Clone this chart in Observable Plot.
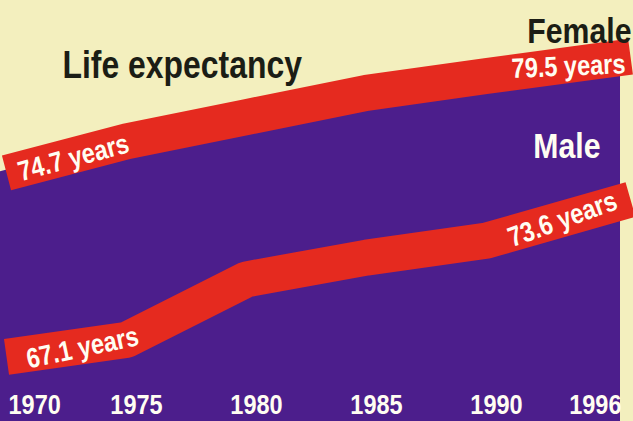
<!DOCTYPE html>
<html><head><meta charset="utf-8">
<script src="https://cdn.jsdelivr.net/npm/d3@7"></script>
<script src="https://cdn.jsdelivr.net/npm/@observablehq/plot@0.6"></script>
<style>
html,body{margin:0;padding:0;background:#f3efbe;overflow:hidden;}
#chart svg{display:block;overflow:hidden !important;}
</style></head><body><div id="chart"></div>
<script>
const years = [1970, 1975, 1980, 1985, 1990, 1996];
const female = [74.7, 76.0, 77.0, 78.0, 78.7, 79.5];
const male = [67.1, 67.8, 70.3, 71.2, 71.9, 73.6];
const yearLabels = ["1970", "1975", "1980", "1985", "1990", "1996"];
const title = "Life expectancy";
const seriesNames = ["Female", "Male"];

const rows = years.map((year, i) => ({year, female: female[i], male: male[i], label: yearLabels[i]}));
const first = rows[0], last = rows[rows.length - 1];
const middle = rows.slice(1, -1);

const CREAM = "#f3efbe", PURPLE = "#4c1e8c", RED = "#e52a1f", INK = "#1b1d15", WHITE = "#fffdf2";
const FONT = `"Liberation Sans",Arial,sans-serif`;
const common = {fontFamily: FONT, fontWeight: "bold"};

const chart = Plot.plot({
  width: 633, height: 421,
  marginTop: 44, marginBottom: 38, marginLeft: 6, marginRight: 3,
  x: {domain: [1970, 1996], axis: null},
  y: {domain: [66, 80], axis: null},
  style: {background: CREAM, fontFamily: FONT, overflow: "hidden"},
  marks: [
    Plot.areaY(rows, {x: "year", y: "female", fill: PURPLE, dx: -10}),
    Plot.line(rows, {x: "year", y: "female", stroke: RED, strokeWidth: 36, strokeLinejoin: "round", strokeLinecap: "butt"}),
    Plot.line(rows, {x: "year", y: "male", stroke: RED, strokeWidth: 36, strokeLinejoin: "round", strokeLinecap: "butt"}),
    // value labels along the bands
    Plot.text([first], {x: "year", y: "female", text: d => `${d.female} years`, ...common, fill: WHITE, fontSize: 28, textAnchor: "middle", rotate: -15, dx: 67, dy: -15}),
    Plot.text([last], {x: "year", y: "female", text: d => `${d.female} years`, ...common, fill: WHITE, fontSize: 28, textAnchor: "middle", rotate: -2.5, dx: -62, dy: 10}),
    Plot.text([first], {x: "year", y: "male", text: d => `${d.male} years`, ...common, fill: WHITE, fontSize: 28, textAnchor: "middle", rotate: -12, dx: 76, dy: -9}),
    Plot.text([last], {x: "year", y: "male", text: d => `${d.male} years`, ...common, fill: WHITE, fontSize: 28, textAnchor: "middle", rotate: -20, dx: -68, dy: 20}),
    // series names
    Plot.text([last], {x: "year", y: "female", text: () => seriesNames[0], ...common, fill: INK, fontSize: 36, textAnchor: "end", dx: 1, dy: -25}),
    Plot.text([last], {x: "year", y: "male", text: () => seriesNames[1], ...common, fill: WHITE, fontSize: 36, textAnchor: "end", dx: -30, dy: -53}),
    // title
    Plot.text([title], {frameAnchor: "top-left", textAnchor: "start", lineAnchor: "middle", ...common, fill: INK, fontSize: 38, dx: 56, dy: 21}),
    // year tick labels
    Plot.text([first], {x: "year", text: "label", frameAnchor: "bottom", lineAnchor: "middle", textAnchor: "start", ...common, fill: WHITE, fontSize: 28, dx: 2, dy: 22}),
    Plot.text(middle, {x: "year", text: "label", frameAnchor: "bottom", lineAnchor: "middle", textAnchor: "middle", ...common, fill: WHITE, fontSize: 28, dx: 10, dy: 22}),
    Plot.text([last], {x: "year", text: "label", frameAnchor: "bottom", lineAnchor: "middle", textAnchor: "end", ...common, fill: WHITE, fontSize: 28, dx: -9, dy: 22})
  ]
});
// condensed lettering: squeeze each text horizontally about its own anchor
d3.select(chart).selectAll("text").each(function () {
  const t = this.getAttribute("transform") || "";
  this.setAttribute("transform", (t + " scale(0.84,1)").trim());
});
document.getElementById("chart").appendChild(chart);
</script></body></html>
